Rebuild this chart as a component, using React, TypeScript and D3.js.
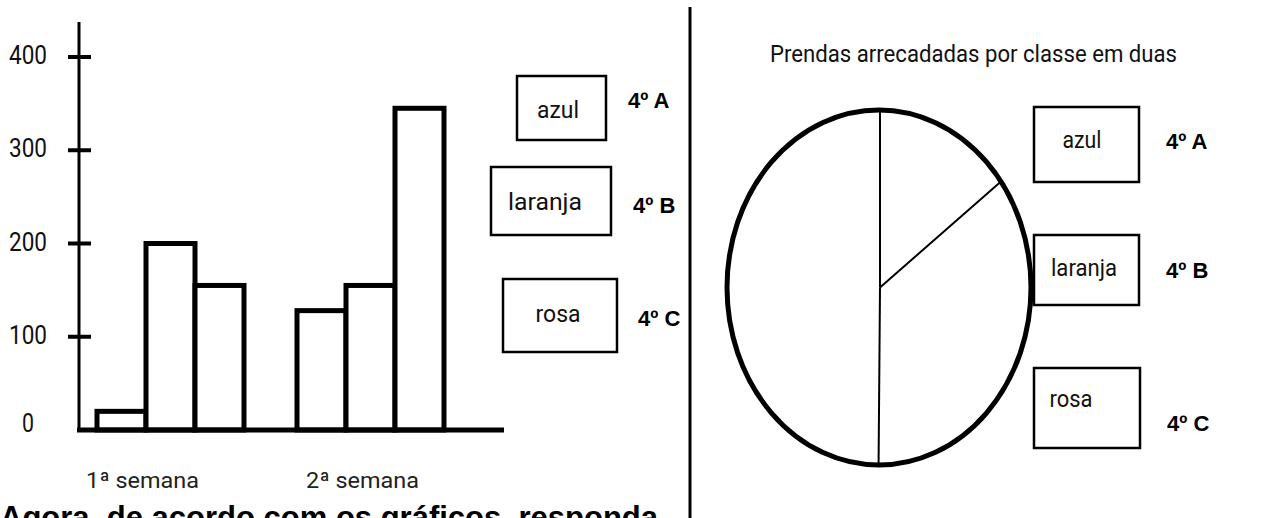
import React from "react";
import * as d3 from "d3";

const weeks = ["1ª semana", "2ª semana"];
const colorNames = ["azul", "laranja", "rosa"];
const classes = ["4º A", "4º B", "4º C"];
const week1 = [20, 200, 155];
const week2 = [128, 155, 345];
const yTicks = [0, 100, 200, 300, 400];
const pieTitle = "Prendas arrecadadas por classe em duas";
const footer = "Agora, de acordo com os gráficos, responda";

const NARROW = "Roboto, 'Liberation Sans Narrow', 'DejaVu Sans Condensed', sans-serif";
const BOLD = "'Liberation Sans', Arial, sans-serif";

export default function App() {
  const W = 1268, H = 518;
  const series = [week1, week2];

  const y = d3.scaleLinear().domain([0, 400]).range([430, 57]);
  const x0 = d3.scaleBand().domain(weeks).range([97, 444]).paddingInner(0.265);
  const x1 = d3.scaleBand().domain(colorNames).range([0, x0.bandwidth()]);
  const labelShift = [-28, -8];

  // pie
  const totals = colorNames.map((_, i) => week1[i] + week2[i]);
  const pie = d3.pie<number>().sort(null).value((d) => d)(totals);
  const cx = 880, cy = 287.5, rx = 152, ry = 177.5;
  const boundaries = pie.map((p) => p.startAngle);

  const leftBoxes = [
    { x: 517, y: 76, w: 89, h: 64, tx: 558, ty: 118, tl: 42, lx: 628, ly: 108 },
    { x: 491, y: 167, w: 120, h: 68, tx: 545, ty: 210, tl: 74, lx: 633, ly: 213 },
    { x: 503, y: 279, w: 114, h: 73, tx: 558, ty: 322, tl: 45, lx: 638, ly: 326 },
  ];
  const rightBoxes = [
    { x: 1034, y: 107, w: 105, h: 75, tx: 1082, ty: 148, tl: 39, lx: 1166, ly: 149 },
    { x: 1034, y: 235, w: 105, h: 70, tx: 1084, ty: 276, tl: 66, lx: 1166, ly: 278 },
    { x: 1034, y: 368, w: 106, h: 80, tx: 1071, ty: 407, tl: 43, lx: 1167, ly: 431 },
  ];

  return (
    <svg
      width={W}
      height={H}
      viewBox={`0 0 ${W} ${H}`}
      style={{ position: "absolute", left: 0, top: 0, background: "#fff", display: "block" }}
    >
      <rect x={0} y={0} width={W} height={H} fill="#fff" />

      {/* y axis */}
      <line x1={79} x2={79} y1={22} y2={432} stroke="#000" strokeWidth={3} />
      {yTicks.map((t) => (
        <g key={t}>
          {t > 0 && (
            <line x1={68} x2={91} y1={y(t)} y2={y(t)} stroke="#000" strokeWidth={4} />
          )}
          <text
            x={28}
            y={y(t) + (t === 0 ? 2 : 7)}
            textAnchor="middle"
            fontFamily={NARROW}
            fontSize={25}
            fill="#111"
            textLength={t === 0 ? 12 : 38}
            lengthAdjust="spacingAndGlyphs"
          >
            {t}
          </text>
        </g>
      ))}

      {/* bars */}
      {weeks.map((wk, wi) => (
        <g key={wk} transform={`translate(${x0(wk)},0)`}>
          {colorNames.map((c, ci) => (
            <rect
              key={c}
              x={x1(c)}
              y={y(series[wi][ci])}
              width={x1.bandwidth()}
              height={y(0) - y(series[wi][ci])}
              fill="#fff"
              stroke="#000"
              strokeWidth={5}
            />
          ))}
          <text
            x={x0.bandwidth() / 2 + labelShift[wi]}
            y={488}
            textAnchor="middle"
            fontFamily={NARROW}
            fontSize={22}
            fill="#222"
            textLength={113}
            lengthAdjust="spacingAndGlyphs"
          >
            {wk}
          </text>
        </g>
      ))}
      {/* baseline */}
      <line x1={77} x2={504} y1={430} y2={430} stroke="#000" strokeWidth={5} />

      {/* left legend */}
      {leftBoxes.map((b, i) => (
        <g key={i}>
          <rect x={b.x} y={b.y} width={b.w} height={b.h} fill="#fff" stroke="#000" strokeWidth={2.5} />
          <text x={b.tx} y={b.ty} textAnchor="middle" fontFamily={NARROW} fontSize={24} fill="#111"
            textLength={b.tl} lengthAdjust="spacingAndGlyphs">
            {colorNames[i]}
          </text>
          <text x={b.lx} y={b.ly} fontFamily={BOLD} fontWeight="bold" fontSize={22} fill="#000">
            {classes[i]}
          </text>
        </g>
      ))}

      {/* divider */}
      <line x1={690} x2={690} y1={7} y2={518} stroke="#000" strokeWidth={3} />

      {/* pie title */}
      <text x={770} y={62} fontFamily={NARROW} fontSize={24} fill="#111" textLength={407}
        lengthAdjust="spacingAndGlyphs">
        {pieTitle}
      </text>

      {/* pie slice boundaries */}
      {boundaries.map((a, i) => (
        <line key={i} x1={cx} y1={cy} x2={cx + rx * Math.sin(a)} y2={cy - ry * Math.cos(a)}
          stroke="#000" strokeWidth={2} />
      ))}
      <ellipse cx={cx - 1} cy={cy} rx={rx} ry={ry} fill="none" stroke="#000" strokeWidth={5} />

      {/* right legend */}
      {rightBoxes.map((b, i) => (
        <g key={i}>
          <rect x={b.x} y={b.y} width={b.w} height={b.h} fill="#fff" stroke="#000" strokeWidth={2.5} />
          <text x={b.tx} y={b.ty} textAnchor="middle" fontFamily={NARROW} fontSize={24} fill="#111"
            textLength={b.tl} lengthAdjust="spacingAndGlyphs">
            {colorNames[i]}
          </text>
          <text x={b.lx} y={b.ly} fontFamily={BOLD} fontWeight="bold" fontSize={22} fill="#000">
            {classes[i]}
          </text>
        </g>
      ))}

      {/* footer */}
      <text x={0} y={528} fontFamily={BOLD} fontWeight="bold" fontSize={31} fill="#000">
        {footer}
      </text>
    </svg>
  );
}
